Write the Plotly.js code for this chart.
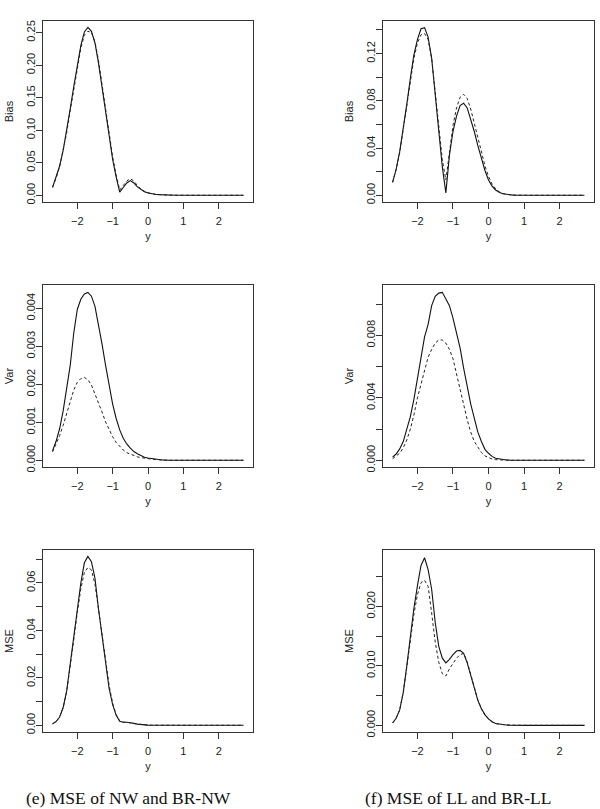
<!DOCTYPE html>
<html>
<head>
<meta charset="utf-8">
<script src="https://cdn.plot.ly/plotly-3.0.1.min.js"></script>
<style>html,body{margin:0;padding:0;background:#fff;}#chart{width:600px;height:809px;}</style>
</head>
<body>
<div id="chart"></div>
<script>
// shared grid of y values (x axis)
const yGrid = [-2.7,-2.6,-2.5,-2.4,-2.3,-2.2,-2.1,-2.0,-1.9,-1.8,-1.7,-1.6,-1.5,-1.4,-1.3,-1.2,-1.1,-1.0,-0.9,-0.8,-0.7,-0.6,-0.5,-0.4,-0.3,-0.2,-0.1,0.0,0.1,0.2,0.3,0.4,0.5,0.6,0.7,0.8,0.9,1.0,1.1,1.2,1.3,1.4,1.5,1.6,1.7,1.8,1.9,2.0,2.1,2.2,2.3,2.4,2.5,2.6,2.7];

// Bias
const biasNW   = [0.012,0.027,0.045,0.069,0.098,0.133,0.167,0.199,0.230,0.251,0.258,0.252,0.234,0.203,0.165,0.126,0.089,0.055,0.028,0.005,0.012,0.019,0.0225,0.019,0.013,0.0085,0.0055,0.0035,0.0022,0.0015,0.001,0.0006,0.0003,0.0002,0.0001,0,0,0,0,0,0,0,0,0,0,0,0,0,0,0,0,0,0,0,0];
const biasBRNW = [0.013,0.026,0.044,0.068,0.096,0.130,0.164,0.196,0.226,0.246,0.252,0.250,0.236,0.207,0.170,0.131,0.094,0.059,0.031,0.008,0.015,0.022,0.0255,0.022,0.015,0.0095,0.006,0.004,0.0025,0.0016,0.001,0.0006,0.0003,0.0002,0.0001,0,0,0,0,0,0,0,0,0,0,0,0,0,0,0,0,0,0,0,0];
const biasLL   = [0.011,0.022,0.037,0.056,0.077,0.099,0.119,0.132,0.141,0.142,0.134,0.116,0.085,0.051,0.024,0.002,0.034,0.054,0.067,0.076,0.078,0.074,0.065,0.054,0.042,0.031,0.021,0.013,0.0078,0.0045,0.0025,0.0013,0.0007,0.0003,0.0001,0,0,0,0,0,0,0,0,0,0,0,0,0,0,0,0,0,0,0,0];
const biasBRLL = [0.011,0.022,0.036,0.055,0.076,0.097,0.116,0.129,0.136,0.137,0.132,0.116,0.088,0.056,0.030,0.013,0.038,0.059,0.074,0.083,0.0855,0.082,0.073,0.061,0.048,0.036,0.025,0.016,0.0095,0.0055,0.003,0.0016,0.0008,0.0004,0.0002,0,0,0,0,0,0,0,0,0,0,0,0,0,0,0,0,0,0,0,0];

// Var
const varNW   = [0.00025,0.0005,0.00083,0.0013,0.0019,0.0025,0.00335,0.00397,0.00424,0.00438,0.00442,0.00432,0.00405,0.0036,0.00306,0.0025,0.00194,0.00148,0.0011,0.0008,0.00058,0.00043,0.00032,0.00023,0.00017,0.00012,0.00008,0.00006,0.00004,0.00003,0.00002,0.00001,0,0,0,0,0,0,0,0,0,0,0,0,0,0,0,0,0,0,0,0,0,0,0];
const varBRNW = [0.00022,0.00042,0.00065,0.00092,0.00123,0.00155,0.00185,0.00205,0.00215,0.00218,0.00212,0.00198,0.00176,0.00152,0.00127,0.00101,0.0008,0.00062,0.00047,0.00036,0.00027,0.0002,0.00016,0.00012,0.00009,0.00007,0.00005,0.00004,0.00003,0.00002,0.00001,0,0,0,0,0,0,0,0,0,0,0,0,0,0,0,0,0,0,0,0,0,0,0,0];
const varLL   = [0.0002,0.0004,0.00073,0.0012,0.0020,0.0028,0.0039,0.0052,0.0065,0.0079,0.0087,0.0099,0.0105,0.0107,0.01075,0.0103,0.0099,0.0091,0.0082,0.0072,0.0059,0.0047,0.0036,0.0027,0.0018,0.0012,0.0007,0.00045,0.00025,0.00013,0.00008,0.00004,0.00002,0.00001,0,0,0,0,0,0,0,0,0,0,0,0,0,0,0,0,0,0,0,0,0];
const varBRLL = [0.0001,0.00028,0.00045,0.0008,0.0013,0.0020,0.0029,0.0040,0.0049,0.0058,0.0066,0.0071,0.0075,0.0077,0.0077,0.0075,0.0071,0.0065,0.0055,0.0045,0.0035,0.0026,0.0018,0.0012,0.00085,0.0005,0.00028,0.00017,0.00008,0.00004,0.00002,0.00001,0,0,0,0,0,0,0,0,0,0,0,0,0,0,0,0,0,0,0,0,0,0,0];

// MSE
const mseNW   = [0.0006,0.0016,0.0035,0.0075,0.0145,0.026,0.037,0.0495,0.060,0.0685,0.0712,0.069,0.062,0.049,0.037,0.0255,0.0155,0.0087,0.0042,0.0017,0.0013,0.0013,0.0012,0.0008,0.0005,0.0003,0.00015,0.00008,0.00004,0.00002,0,0,0,0,0,0,0,0,0,0,0,0,0,0,0,0,0,0,0,0,0,0,0,0,0];
const mseBRNW = [0.0006,0.0016,0.0035,0.0074,0.0142,0.0245,0.036,0.0475,0.0575,0.0645,0.0665,0.0655,0.0595,0.049,0.0375,0.0265,0.0168,0.0093,0.0045,0.0018,0.0013,0.0013,0.0012,0.0008,0.0005,0.0003,0.00015,0.00008,0.00004,0.00002,0,0,0,0,0,0,0,0,0,0,0,0,0,0,0,0,0,0,0,0,0,0,0,0,0];
const mseLL   = [0.0004,0.0012,0.0026,0.0055,0.0100,0.0150,0.0197,0.0235,0.0269,0.0282,0.0262,0.0229,0.0173,0.0133,0.0113,0.0105,0.0111,0.0119,0.0125,0.0126,0.0121,0.0105,0.0083,0.0062,0.0042,0.0028,0.0018,0.0011,0.0006,0.0003,0.0002,0.0001,0.00006,0.00003,0,0,0,0,0,0,0,0,0,0,0,0,0,0,0,0,0,0,0,0,0];
const mseBRLL = [0.0004,0.0012,0.0026,0.0056,0.0098,0.0143,0.0187,0.0220,0.0240,0.0244,0.0234,0.0189,0.0140,0.0106,0.0087,0.0083,0.0095,0.0104,0.0113,0.0119,0.0121,0.0107,0.0085,0.0063,0.0043,0.0028,0.0017,0.0011,0.0006,0.0003,0.0002,0.0001,0.00006,0.00003,0,0,0,0,0,0,0,0,0,0,0,0,0,0,0,0,0,0,0,0,0];

// tick labels
const xTickVals = [-2,-1,0,1,2];
const xTickText = ['\u22122','\u22121','0','1','2'];
const yTicks1 = [0,0.05,0.10,0.15,0.20,0.25];
const yText1  = ['0.00','0.05','0.10','0.15','0.20','0.25'];
const yTicks2 = [0,0.02,0.04,0.06,0.08,0.10,0.12,0.14];
const yText2  = ['0.00','','0.04','','0.08','','0.12',''];
const yTicks3 = [0,0.001,0.002,0.003,0.004];
const yText3  = ['0.000','0.001','0.002','0.003','0.004'];
const yTicks4 = [0,0.002,0.004,0.006,0.008,0.010];
const yText4  = ['0.000','','0.004','','0.008',''];
const yTicks5 = [0,0.01,0.02,0.03,0.04,0.05,0.06,0.07];
const yText5  = ['0.00','','0.02','','0.04','','0.06',''];
const yTicks6 = [0,0.005,0.010,0.015,0.020,0.025];
const yText6  = ['0.000','','0.010','','0.020',''];
const yTitles = ['Bias','Bias','Var','Var','MSE','MSE'];
const captions = ['(e) MSE of NW and BR-NW','(f) MSE of LL and BR-LL'];

// ---- layout geometry ----
const W = 600, H = 809;
const cols = [[43,253],[383,594]];
const rows = [[21,202],[285,467],[550,732]];
const yRanges = [[-0.0103,0.2678],[-0.0057,0.1476],[-0.000177,0.004614],[-0.00043,0.01122],[-0.00283,0.0739],[-0.00112,0.0295]];
const yTV = [yTicks1,yTicks2,yTicks3,yTicks4,yTicks5,yTicks6];
const yTT = [yText1,yText2,yText3,yText4,yText5,yText6];
const solids = [biasNW,biasLL,varNW,varLL,mseNW,mseLL];
const dashes = [biasBRNW,biasBRLL,varBRNW,varBRLL,mseBRNW,mseBRLL];

const font = {family:'Liberation Sans, Arial, Helvetica, sans-serif', size:11, color:'#222'};
const common = {showline:true, mirror:true, linecolor:'#333', linewidth:1, ticks:'outside', ticklen:6,
  tickcolor:'#333', tickwidth:1, showgrid:false, zeroline:false, tickfont:font, fixedrange:true};

const data = [];
const layout = {width:W, height:H, margin:{l:0,r:0,t:0,b:0}, paper_bgcolor:'#fff', plot_bgcolor:'#fff',
  showlegend:false, annotations:[]};

for (let i = 0; i < 6; i++) {
  const c = cols[i % 2], r = rows[Math.floor(i / 2)];
  const sfx = i === 0 ? '' : String(i + 1);
  const xa = 'x' + sfx, ya = 'y' + sfx;
  data.push({x: yGrid, y: solids[i], xaxis: xa, yaxis: ya, type:'scatter', mode:'lines',
    line:{color:'#111', width:1.1}, hoverinfo:'skip'});
  data.push({x: yGrid, y: dashes[i], xaxis: xa, yaxis: ya, type:'scatter', mode:'lines',
    line:{color:'#222', width:1, dash:'3px,2.5px'}, hoverinfo:'skip'});
  layout['xaxis' + sfx] = Object.assign({}, common, {
    domain:[c[0]/W, c[1]/W], anchor: ya, range:[-2.97, 2.97],
    tickmode:'array', tickvals:xTickVals, ticktext:xTickText, ticklabelstandoff:3,
    title:{text:'y', font:font, standoff:6}
  });
  layout['yaxis' + sfx] = Object.assign({}, common, {
    domain:[1 - r[1]/H, 1 - r[0]/H], anchor: xa, range:yRanges[i],
    tickmode:'array', tickvals:yTV[i], ticktext:yTT[i], tickangle:-90, ticklabelstandoff:-3,
    title:{text:yTitles[i], font:font, standoff:8}
  });
}
layout.annotations.push({xref:'paper', yref:'paper', x:128/W, y:1 - 798/H, xanchor:'center', yanchor:'middle',
  showarrow:false, text:captions[0], font:{family:'Liberation Serif, Times New Roman, serif', size:17.5, color:'#111'}});
layout.annotations.push({xref:'paper', yref:'paper', x:458/W, y:1 - 798/H, xanchor:'center', yanchor:'middle',
  showarrow:false, text:captions[1], font:{family:'Liberation Serif, Times New Roman, serif', size:17.5, color:'#111'}});

Plotly.newPlot('chart', data, layout, {staticPlot:true, displayModeBar:false});
</script>
</body>
</html>
